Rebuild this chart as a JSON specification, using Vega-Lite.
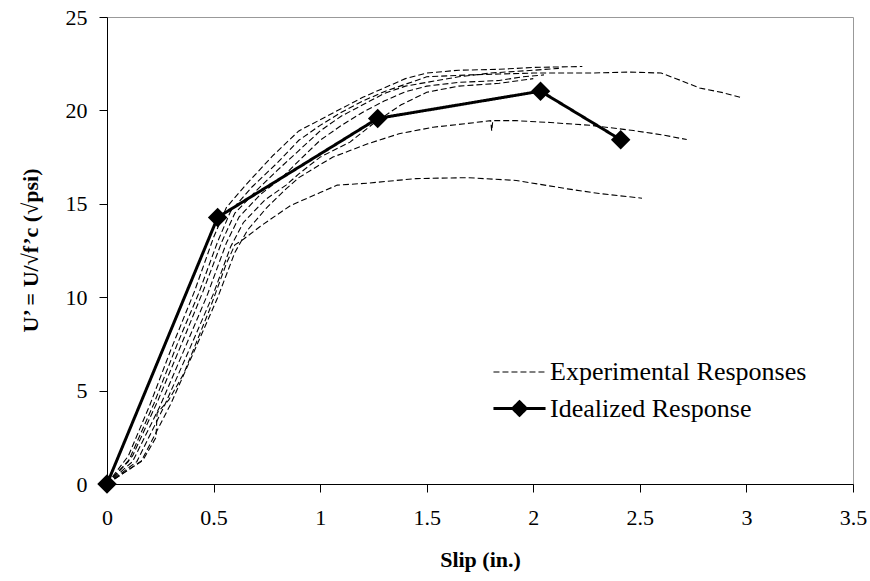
{
  "$schema": "https://vega.github.io/schema/vega-lite/v6.json",
  "autosize": {"type": "none"},
  "padding": {"left": 107, "top": 17, "right": 17, "bottom": 97},
  "width": 746,
  "height": 467,
  "background": "white",
  "config": {
    "view": {"stroke": "#999", "strokeWidth": 1},
    "font": "Liberation Serif",
    "axis": {"labelFont": "Liberation Serif", "titleFont": "Liberation Serif"},
    "legend": {"labelFont": "Liberation Serif"}
  },
  "data": {"values": [
    {"t":"T1","type":"Experimental Responses","x":0,"y":0},
    {"t":"T1","type":"Experimental Responses","x":0.1,"y":1.5},
    {"t":"T1","type":"Experimental Responses","x":0.2,"y":4.2},
    {"t":"T1","type":"Experimental Responses","x":0.3,"y":7.2},
    {"t":"T1","type":"Experimental Responses","x":0.41,"y":10.3},
    {"t":"T1","type":"Experimental Responses","x":0.5,"y":13.2},
    {"t":"T1","type":"Experimental Responses","x":0.56,"y":14.8},
    {"t":"T1","type":"Experimental Responses","x":0.65,"y":16.0},
    {"t":"T1","type":"Experimental Responses","x":0.78,"y":17.6},
    {"t":"T1","type":"Experimental Responses","x":0.9,"y":18.9},
    {"t":"T1","type":"Experimental Responses","x":1.0,"y":19.5},
    {"t":"T1","type":"Experimental Responses","x":1.1,"y":20.1},
    {"t":"T1","type":"Experimental Responses","x":1.2,"y":20.7},
    {"t":"T1","type":"Experimental Responses","x":1.3,"y":21.2},
    {"t":"T1","type":"Experimental Responses","x":1.4,"y":21.7},
    {"t":"T1","type":"Experimental Responses","x":1.5,"y":22.0},
    {"t":"T1","type":"Experimental Responses","x":1.65,"y":22.15},
    {"t":"T1","type":"Experimental Responses","x":1.84,"y":22.2},
    {"t":"T1","type":"Experimental Responses","x":2.0,"y":22.3},
    {"t":"T1","type":"Experimental Responses","x":2.23,"y":22.35},

    {"t":"T2","type":"Experimental Responses","x":0,"y":0},
    {"t":"T2","type":"Experimental Responses","x":0.1,"y":1.2},
    {"t":"T2","type":"Experimental Responses","x":0.22,"y":4.3},
    {"t":"T2","type":"Experimental Responses","x":0.33,"y":7.5},
    {"t":"T2","type":"Experimental Responses","x":0.43,"y":10.2},
    {"t":"T2","type":"Experimental Responses","x":0.52,"y":13.0},
    {"t":"T2","type":"Experimental Responses","x":0.58,"y":14.6},
    {"t":"T2","type":"Experimental Responses","x":0.68,"y":15.9},
    {"t":"T2","type":"Experimental Responses","x":0.8,"y":17.2},
    {"t":"T2","type":"Experimental Responses","x":0.9,"y":18.4},
    {"t":"T2","type":"Experimental Responses","x":1.0,"y":19.2},
    {"t":"T2","type":"Experimental Responses","x":1.1,"y":19.9},
    {"t":"T2","type":"Experimental Responses","x":1.2,"y":20.5},
    {"t":"T2","type":"Experimental Responses","x":1.3,"y":21.0},
    {"t":"T2","type":"Experimental Responses","x":1.4,"y":21.4},
    {"t":"T2","type":"Experimental Responses","x":1.5,"y":21.8},
    {"t":"T2","type":"Experimental Responses","x":1.7,"y":21.9},
    {"t":"T2","type":"Experimental Responses","x":1.84,"y":21.95},
    {"t":"T2","type":"Experimental Responses","x":2.0,"y":22.0},
    {"t":"T2","type":"Experimental Responses","x":2.27,"y":22.0},
    {"t":"T2","type":"Experimental Responses","x":2.45,"y":22.05},
    {"t":"T2","type":"Experimental Responses","x":2.6,"y":22.0},
    {"t":"T2","type":"Experimental Responses","x":2.67,"y":21.7},
    {"t":"T2","type":"Experimental Responses","x":2.78,"y":21.2},
    {"t":"T2","type":"Experimental Responses","x":2.89,"y":20.95},
    {"t":"T2","type":"Experimental Responses","x":2.97,"y":20.7},

    {"t":"T3","type":"Experimental Responses","x":0,"y":0},
    {"t":"T3","type":"Experimental Responses","x":0.12,"y":1.5},
    {"t":"T3","type":"Experimental Responses","x":0.24,"y":4.5},
    {"t":"T3","type":"Experimental Responses","x":0.35,"y":7.5},
    {"t":"T3","type":"Experimental Responses","x":0.45,"y":10.3},
    {"t":"T3","type":"Experimental Responses","x":0.54,"y":13.0},
    {"t":"T3","type":"Experimental Responses","x":0.6,"y":14.5},
    {"t":"T3","type":"Experimental Responses","x":0.7,"y":15.7},
    {"t":"T3","type":"Experimental Responses","x":0.8,"y":16.8},
    {"t":"T3","type":"Experimental Responses","x":0.9,"y":17.85},
    {"t":"T3","type":"Experimental Responses","x":1.0,"y":18.9},
    {"t":"T3","type":"Experimental Responses","x":1.1,"y":19.7},
    {"t":"T3","type":"Experimental Responses","x":1.2,"y":20.3},
    {"t":"T3","type":"Experimental Responses","x":1.3,"y":20.9},
    {"t":"T3","type":"Experimental Responses","x":1.4,"y":21.3},
    {"t":"T3","type":"Experimental Responses","x":1.5,"y":21.5},
    {"t":"T3","type":"Experimental Responses","x":1.65,"y":21.8},
    {"t":"T3","type":"Experimental Responses","x":1.8,"y":22.0},
    {"t":"T3","type":"Experimental Responses","x":2.0,"y":22.15},
    {"t":"T3","type":"Experimental Responses","x":2.12,"y":22.25},

    {"t":"T4","type":"Experimental Responses","x":0,"y":0},
    {"t":"T4","type":"Experimental Responses","x":0.12,"y":1.2},
    {"t":"T4","type":"Experimental Responses","x":0.25,"y":4.2},
    {"t":"T4","type":"Experimental Responses","x":0.37,"y":7.4},
    {"t":"T4","type":"Experimental Responses","x":0.47,"y":10.1},
    {"t":"T4","type":"Experimental Responses","x":0.56,"y":12.9},
    {"t":"T4","type":"Experimental Responses","x":0.62,"y":14.3},
    {"t":"T4","type":"Experimental Responses","x":0.72,"y":15.5},
    {"t":"T4","type":"Experimental Responses","x":0.82,"y":16.4},
    {"t":"T4","type":"Experimental Responses","x":0.9,"y":17.3},
    {"t":"T4","type":"Experimental Responses","x":1.0,"y":18.4},
    {"t":"T4","type":"Experimental Responses","x":1.1,"y":19.2},
    {"t":"T4","type":"Experimental Responses","x":1.2,"y":19.9},
    {"t":"T4","type":"Experimental Responses","x":1.3,"y":20.5},
    {"t":"T4","type":"Experimental Responses","x":1.4,"y":21.0},
    {"t":"T4","type":"Experimental Responses","x":1.5,"y":21.3},
    {"t":"T4","type":"Experimental Responses","x":1.65,"y":21.5},
    {"t":"T4","type":"Experimental Responses","x":1.84,"y":21.6},
    {"t":"T4","type":"Experimental Responses","x":1.95,"y":21.8},
    {"t":"T4","type":"Experimental Responses","x":2.05,"y":21.9},

    {"t":"T5","type":"Experimental Responses","x":0,"y":0},
    {"t":"T5","type":"Experimental Responses","x":0.14,"y":1.2},
    {"t":"T5","type":"Experimental Responses","x":0.27,"y":4.2},
    {"t":"T5","type":"Experimental Responses","x":0.39,"y":7.3},
    {"t":"T5","type":"Experimental Responses","x":0.5,"y":10.2},
    {"t":"T5","type":"Experimental Responses","x":0.58,"y":12.7},
    {"t":"T5","type":"Experimental Responses","x":0.64,"y":14.0},
    {"t":"T5","type":"Experimental Responses","x":0.74,"y":15.2},
    {"t":"T5","type":"Experimental Responses","x":0.84,"y":16.0},
    {"t":"T5","type":"Experimental Responses","x":0.9,"y":16.6},
    {"t":"T5","type":"Experimental Responses","x":1.0,"y":17.5},
    {"t":"T5","type":"Experimental Responses","x":1.14,"y":18.3},
    {"t":"T5","type":"Experimental Responses","x":1.25,"y":19.3},
    {"t":"T5","type":"Experimental Responses","x":1.38,"y":20.3},
    {"t":"T5","type":"Experimental Responses","x":1.5,"y":20.97},
    {"t":"T5","type":"Experimental Responses","x":1.65,"y":21.3},
    {"t":"T5","type":"Experimental Responses","x":1.84,"y":21.45},
    {"t":"T5","type":"Experimental Responses","x":2.0,"y":21.7},

    {"t":"B","type":"Experimental Responses","x":0,"y":0},
    {"t":"B","type":"Experimental Responses","x":0.16,"y":1.2},
    {"t":"B","type":"Experimental Responses","x":0.3,"y":4.3},
    {"t":"B","type":"Experimental Responses","x":0.42,"y":7.4},
    {"t":"B","type":"Experimental Responses","x":0.52,"y":10.0},
    {"t":"B","type":"Experimental Responses","x":0.6,"y":12.4},
    {"t":"B","type":"Experimental Responses","x":0.66,"y":13.6},
    {"t":"B","type":"Experimental Responses","x":0.75,"y":14.8},
    {"t":"B","type":"Experimental Responses","x":0.84,"y":15.8},
    {"t":"B","type":"Experimental Responses","x":0.9,"y":16.4},
    {"t":"B","type":"Experimental Responses","x":1.0,"y":17.1},
    {"t":"B","type":"Experimental Responses","x":1.06,"y":17.5},
    {"t":"B","type":"Experimental Responses","x":1.14,"y":17.85},
    {"t":"B","type":"Experimental Responses","x":1.22,"y":18.2},
    {"t":"B","type":"Experimental Responses","x":1.37,"y":18.75},
    {"t":"B","type":"Experimental Responses","x":1.53,"y":19.1},
    {"t":"B","type":"Experimental Responses","x":1.69,"y":19.3},
    {"t":"B","type":"Experimental Responses","x":1.8,"y":19.45},
    {"t":"B","type":"Experimental Responses","x":1.805,"y":18.9},
    {"t":"B","type":"Experimental Responses","x":1.81,"y":19.45},
    {"t":"B","type":"Experimental Responses","x":1.92,"y":19.45},
    {"t":"B","type":"Experimental Responses","x":2.08,"y":19.35},
    {"t":"B","type":"Experimental Responses","x":2.27,"y":19.2},
    {"t":"B","type":"Experimental Responses","x":2.47,"y":18.92},
    {"t":"B","type":"Experimental Responses","x":2.6,"y":18.7},
    {"t":"B","type":"Experimental Responses","x":2.72,"y":18.44},

    {"t":"A","type":"Experimental Responses","x":0,"y":0},
    {"t":"A","type":"Experimental Responses","x":0.17,"y":1.3},
    {"t":"A","type":"Experimental Responses","x":0.23,"y":2.5},
    {"t":"A","type":"Experimental Responses","x":0.235,"y":3.8},
    {"t":"A","type":"Experimental Responses","x":0.29,"y":4.5},
    {"t":"A","type":"Experimental Responses","x":0.36,"y":5.9},
    {"t":"A","type":"Experimental Responses","x":0.48,"y":9.3},
    {"t":"A","type":"Experimental Responses","x":0.56,"y":11.8},
    {"t":"A","type":"Experimental Responses","x":0.6,"y":12.8},
    {"t":"A","type":"Experimental Responses","x":0.64,"y":13.1},
    {"t":"A","type":"Experimental Responses","x":0.72,"y":13.8},
    {"t":"A","type":"Experimental Responses","x":0.86,"y":14.9},
    {"t":"A","type":"Experimental Responses","x":1.0,"y":15.6},
    {"t":"A","type":"Experimental Responses","x":1.08,"y":16.0},
    {"t":"A","type":"Experimental Responses","x":1.22,"y":16.1},
    {"t":"A","type":"Experimental Responses","x":1.45,"y":16.35},
    {"t":"A","type":"Experimental Responses","x":1.69,"y":16.4},
    {"t":"A","type":"Experimental Responses","x":1.92,"y":16.25},
    {"t":"A","type":"Experimental Responses","x":2.16,"y":15.8},
    {"t":"A","type":"Experimental Responses","x":2.31,"y":15.55},
    {"t":"A","type":"Experimental Responses","x":2.51,"y":15.3},

    {"t":"I","type":"Idealized Response","x":0,"y":0},
    {"t":"I","type":"Idealized Response","x":0.519,"y":14.27},
    {"t":"I","type":"Idealized Response","x":1.27,"y":19.57},
    {"t":"I","type":"Idealized Response","x":2.034,"y":21.03},
    {"t":"I","type":"Idealized Response","x":2.41,"y":18.43}
  ]},
  "encoding": {
    "x": {
      "field": "x", "type": "quantitative",
      "scale": {"domain": [0, 3.5], "nice": false, "zero": false},
      "axis": {
        "title": "Slip (in.)",
        "values": [0, 0.5, 1, 1.5, 2, 2.5, 3, 3.5],
        "format": "~g",
        "grid": false,
        "domainColor": "black",
        "tickColor": "black",
        "tickSize": 8,
        "labelPadding": 15,
        "labelFont": "Liberation Serif",
        "labelFontSize": 22,
        "labelColor": "black",
        "labelFlush": false,
        "titleFont": "Liberation Serif",
        "titleFontSize": 22,
        "titleFontWeight": "bold",
        "titleColor": "black",
        "titlePadding": 21,
        "encode": {"ticks": {"update": {"y2": {"value": -8}}}}
      }
    },
    "y": {
      "field": "y", "type": "quantitative",
      "scale": {"domain": [0, 25], "nice": false},
      "axis": {
        "title": "U’ = U/√f’c (√psi)",
        "values": [0, 5, 10, 15, 20, 25],
        "grid": false,
        "domainColor": "black",
        "tickColor": "black",
        "tickSize": 8,
        "labelPadding": 12,
        "labelFont": "Liberation Serif",
        "labelFontSize": 22,
        "labelColor": "black",
        "labelFlush": false,
        "titleFont": "Liberation Serif",
        "titleFontSize": 22,
        "titleFontWeight": "bold",
        "titleColor": "black",
        "titleAngle": 270,
        "titleAlign": "center",
        "titleBaseline": "middle",
        "titleX": -77,
        "titleY": 233,
        "encode": {"ticks": {"update": {"x2": {"value": 8}}}}
      }
    }
  },
  "layer": [
    {
      "mark": {"type": "line", "color": "black", "strokeCap": "butt"},
      "encoding": {
        "detail": {"field": "t"},
        "strokeDash": {
          "field": "type", "type": "nominal",
          "scale": {"domain": ["Experimental Responses", "Idealized Response"], "range": [[6, 3], [1, 0]]},
          "legend": {
            "title": null,
            "orient": "none",
            "legendX": 397,
            "legendY": 340,
            "padding": 0,
            "labelFont": "Liberation Serif",
            "labelFontSize": 26,
            "labelColor": "black",
            "labelLimit": 0,
            "labelOffset": 15,
            "symbolSize": 784,
            "symbolStrokeColor": "black",
            "symbolStrokeWidth": 1.2,
            "rowPadding": 8,
            "encode": {
              "symbols": {
                "update": {
                  "shape": {"signal": "datum.value === 'Idealized Response' ? 'M-1.86,0H1.86M-0.48,0L0,-0.48L0.48,0L0,0.48Z' : 'M-1.86,0H1.86'"},
                  "strokeWidth": {"signal": "datum.value === 'Idealized Response' ? 3 : 1.2"},
                  "fill": {"signal": "datum.value === 'Idealized Response' ? 'black' : 'transparent'"},
                  "stroke": {"value": "black"}
                }
              }
            }
          }
        },
        "strokeWidth": {
          "field": "type", "type": "nominal",
          "scale": {"domain": ["Experimental Responses", "Idealized Response"], "range": [1.1, 3]},
          "legend": null
        }
      }
    },
    {
      "transform": [{"filter": "datum.type === 'Idealized Response'"}],
      "mark": {"type": "point", "shape": "diamond", "filled": true, "color": "black", "size": 380, "opacity": 1}
    }
  ]
}
